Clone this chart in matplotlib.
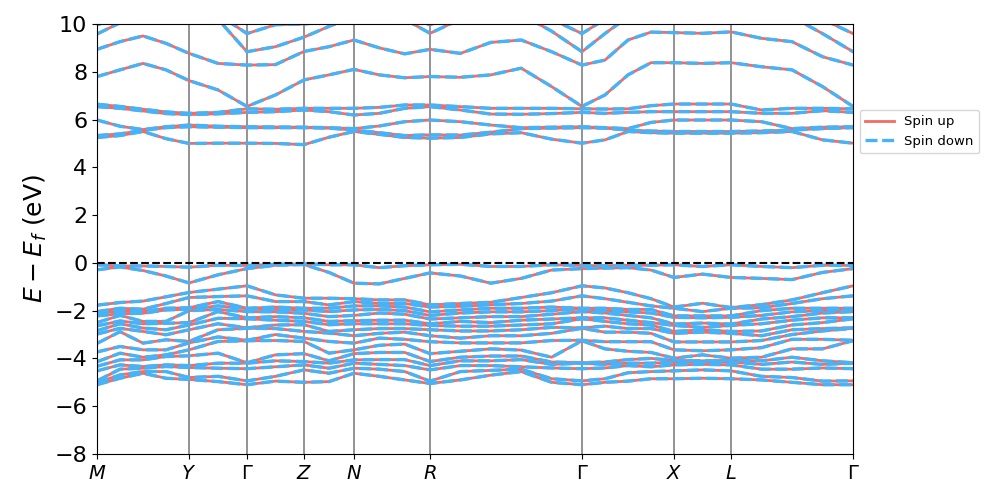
import matplotlib
matplotlib.use('Agg')
import matplotlib.pyplot as plt
import numpy as np

# high symmetry points along the path (k distance, label)
hs_labels = ['$M$', '$Y$', r'$\Gamma$', '$Z$', '$N$', '$R$', r'$\Gamma$', '$X$', '$L$', r'$\Gamma$']
hs_k = [0.0, 0.1217, 0.1984, 0.2738, 0.3399, 0.4405, 0.6415, 0.7632, 0.8386, 1.0]
# number of sampled steps in each segment
seg_steps = [4, 2, 2, 2, 3, 5, 4, 2, 4]

# band energies (eV, relative to E_f) read at every sampled k-point
e_gamma = [-0.11, -0.24, -0.96, -1.38, -1.90, -1.92, -2.04, -2.30, -2.34, -2.72, -2.74, -3.24, -3.26, -4.18, -4.20, -4.43, -4.94, -5.10,
           5.01, 5.66, 5.70, 6.30, 6.45, 6.55, 8.28, 8.84, 9.60]
e_k00 = [-0.08, -0.29, -1.77, -2.04, -2.10, -2.22, -2.50, -2.64, -2.84, -2.98, -3.37, -3.73, -4.14, -4.33, -4.52, -4.94, -5.02, -5.10,
         5.25, 5.33, 5.98, 6.54, 6.64, 7.80, 8.94, 9.58, 9.96]
e_k01 = [-0.13, -0.17, -1.66, -1.90, -2.02, -2.13, -2.20, -2.43, -2.55, -2.74, -2.88, -3.50, -3.78, -4.06, -4.27, -4.45, -4.69, -4.83,
         5.33, 5.40, 5.72, 6.47, 6.55, 8.08, 9.26, 10.05, 10.3]
e_k02 = [-0.13, -0.32, -1.60, -1.94, -2.04, -2.11, -2.45, -2.55, -2.73, -2.87, -3.36, -3.64, -3.95, -4.06, -4.34, -4.41, -4.55, -4.62,
         5.50, 5.55, 5.58, 6.36, 6.43, 8.35, 9.50, 10.4, 10.5]
e_k03 = [-0.15, -0.55, -1.42, -1.70, -1.90, -1.97, -2.45, -2.53, -2.80, -3.01, -3.22, -3.64, -3.85, -3.92, -4.27, -4.34, -4.55, -4.83,
         5.20, 5.66, 5.70, 6.25, 6.32, 8.08, 9.19, 10.4, 10.5]
e_k04 = [-0.18, -0.84, -1.24, -1.45, -1.88, -1.94, -2.00, -2.50, -2.60, -2.80, -3.29, -3.35, -3.64, -3.89, -4.30, -4.38, -4.80, -4.88,
         5.00, 5.70, 5.77, 6.21, 6.26, 7.63, 8.77, 10.4, 10.5]
e_k05 = [-0.10, -0.50, -1.10, -1.41, -1.62, -1.80, -1.95, -2.04, -2.32, -2.55, -2.80, -3.10, -3.29, -3.78, -4.20, -4.41, -4.75, -4.97,
         5.01, 5.68, 5.72, 6.24, 6.30, 7.24, 8.35, 10.2, 10.4]
e_k07 = [-0.06, -0.10, -1.34, -1.62, -1.85, -1.95, -2.05, -2.25, -2.40, -2.60, -2.75, -3.00, -3.25, -3.85, -4.10, -4.35, -4.75, -4.95,
         5.00, 5.66, 5.69, 6.33, 6.43, 7.03, 8.30, 9.05, 9.97]
e_k08 = [-0.04, -0.07, -1.48, -1.62, -1.90, -1.97, -2.11, -2.30, -2.45, -2.59, -2.87, -3.15, -3.29, -3.80, -4.13, -4.27, -4.48, -5.00,
         4.95, 5.66, 5.68, 6.40, 6.47, 7.66, 8.85, 9.45, 10.0]
e_k09 = [-0.08, -0.40, -1.48, -1.76, -1.90, -2.04, -2.25, -2.45, -2.59, -2.87, -2.94, -3.29, -3.78, -4.10, -4.20, -4.41, -4.62, -4.97,
         5.26, 5.64, 5.66, 6.33, 6.47, 7.87, 9.05, 9.90, 10.1]
e_k10 = [-0.08, -0.85, -1.50, -1.62, -1.80, -1.97, -2.20, -2.42, -2.55, -2.80, -3.05, -3.36, -3.64, -3.80, -4.06, -4.20, -4.41, -4.62,
         5.50, 5.56, 5.62, 6.19, 6.47, 8.10, 9.33, 10.3, 10.4]
e_k11 = [-0.20, -0.88, -1.55, -1.70, -1.80, -1.95, -2.10, -2.40, -2.55, -2.75, -2.95, -3.15, -3.45, -3.75, -4.05, -4.25, -4.45, -4.75,
         5.38, 5.45, 5.73, 6.26, 6.51, 7.87, 9.00, 10.4, 10.5]
e_k12 = [-0.12, -0.65, -1.55, -1.70, -1.85, -2.00, -2.15, -2.40, -2.55, -2.75, -2.90, -3.20, -3.40, -3.75, -4.05, -4.30, -4.55, -4.90,
         5.25, 5.33, 5.91, 6.47, 6.61, 7.75, 8.75, 10.2, 10.4]
e_k13 = [-0.08, -0.42, -1.76, -1.85, -2.05, -2.20, -2.35, -2.55, -2.62, -2.80, -3.05, -3.30, -3.80, -4.13, -4.30, -4.48, -4.95, -5.05,
         5.22, 5.36, 5.98, 6.54, 6.61, 7.80, 8.94, 9.61, 9.96]
e_k14 = [-0.06, -0.55, -1.70, -1.82, -1.97, -2.10, -2.30, -2.45, -2.65, -2.85, -3.15, -3.35, -3.70, -3.95, -4.10, -4.30, -4.55, -4.90,
         5.25, 5.35, 5.91, 6.40, 6.54, 7.77, 8.77, 10.2, 10.4]
e_k15 = [-0.15, -0.85, -1.65, -1.75, -1.90, -2.05, -2.25, -2.50, -2.65, -2.85, -3.05, -3.35, -3.60, -3.90, -4.10, -4.30, -4.50, -4.70,
         5.40, 5.47, 5.77, 6.23, 6.47, 7.87, 9.23, 10.4, 10.5]
e_k16 = [-0.15, -0.65, -1.45, -1.70, -1.90, -2.05, -2.25, -2.40, -2.60, -2.80, -3.05, -3.35, -3.65, -3.90, -4.05, -4.35, -4.45, -4.55,
         5.45, 5.62, 5.66, 6.22, 6.47, 8.15, 9.33, 10.4, 10.5]
e_k17 = [-0.08, -0.30, -1.25, -1.60, -1.85, -2.00, -2.15, -2.35, -2.55, -2.70, -2.95, -3.25, -3.95, -4.15, -4.25, -4.40, -4.85, -5.00,
         5.18, 5.64, 5.68, 6.25, 6.47, 7.38, 8.84, 9.70, 10.2]
e_k19 = [-0.12, -0.22, -1.05, -1.50, -1.90, -2.00, -2.10, -2.30, -2.45, -2.65, -2.90, -3.30, -3.60, -4.15, -4.25, -4.40, -4.85, -5.00,
         5.15, 5.64, 5.66, 6.26, 6.44, 7.03, 8.49, 9.60, 10.2]
e_k20 = [-0.10, -0.20, -1.25, -1.65, -1.95, -2.05, -2.20, -2.40, -2.55, -2.75, -2.90, -3.30, -3.70, -4.05, -4.20, -4.30, -4.60, -4.95,
         5.50, 5.56, 5.62, 6.30, 6.45, 7.87, 9.33, 10.3, 10.5]
e_k21 = [-0.10, -0.30, -1.50, -1.80, -1.95, -2.10, -2.30, -2.50, -2.60, -2.75, -2.95, -3.30, -3.75, -4.00, -4.20, -4.35, -4.55, -4.85,
         5.45, 5.52, 5.88, 6.33, 6.58, 8.38, 9.66, 10.4, 10.5]
e_k22 = [-0.08, -0.61, -1.85, -1.90, -2.22, -2.28, -2.56, -2.62, -2.87, -2.95, -3.31, -3.64, -3.99, -4.08, -4.15, -4.27, -4.52, -4.85,
         5.43, 5.50, 5.98, 6.33, 6.65, 8.38, 9.64, 10.4, 10.5]
e_k23 = [-0.15, -0.47, -1.69, -2.04, -2.22, -2.30, -2.52, -2.70, -2.80, -2.90, -3.31, -3.68, -3.85, -4.10, -4.15, -4.25, -4.48, -4.83,
         5.43, 5.50, 5.98, 6.33, 6.65, 8.35, 9.61, 10.4, 10.5]
e_k24 = [-0.08, -0.61, -1.87, -1.90, -2.22, -2.28, -2.56, -2.62, -2.87, -2.95, -3.31, -3.64, -3.99, -4.08, -4.15, -4.27, -4.52, -4.85,
         5.43, 5.50, 5.98, 6.33, 6.65, 8.38, 9.67, 10.4, 10.5]
e_k25 = [-0.15, -0.65, -1.75, -1.88, -2.00, -2.20, -2.35, -2.55, -2.85, -3.05, -3.25, -3.55, -3.95, -4.10, -4.25, -4.45, -4.75, -4.90,
         5.45, 5.52, 5.91, 6.26, 6.40, 8.21, 9.40, 10.4, 10.5]
e_k26 = [-0.20, -0.70, -1.55, -1.70, -1.90, -2.05, -2.25, -2.40, -2.60, -2.80, -3.00, -3.20, -3.60, -3.95, -4.15, -4.45, -4.80, -5.00,
         5.50, 5.56, 5.62, 6.26, 6.47, 8.08, 9.26, 10.3, 10.5]
e_k27 = [-0.10, -0.40, -1.25, -1.50, -1.90, -2.00, -2.10, -2.30, -2.50, -2.75, -2.85, -3.20, -3.60, -4.10, -4.25, -4.40, -4.95, -5.10,
         5.15, 5.62, 5.68, 6.37, 6.47, 7.38, 8.63, 9.60, 10.2]

columns = [e_k00, e_k01, e_k02, e_k03, e_k04, e_k05, e_gamma, e_k07, e_k08, e_k09,
           e_k10, e_k11, e_k12, e_k13, e_k14, e_k15, e_k16, e_k17, e_gamma, e_k19,
           e_k20, e_k21, e_k22, e_k23, e_k24, e_k25, e_k26, e_k27, e_gamma]


def kpath(hs, steps):
    ks = [hs[0]]
    for i, n in enumerate(steps):
        ks.extend(np.linspace(hs[i], hs[i + 1], n + 1)[1:])
    return np.array(ks)


def draw_bands(ax, k, bands):
    for i, band in enumerate(bands):
        ax.plot(k, band, color='#f46a64', lw=2.0, label='Spin up' if i == 0 else None)
    for i, band in enumerate(bands):
        ax.plot(k, band, color='#47b3f6', lw=2.4, ls='--', dashes=(3.6, 1.4),
                label='Spin down' if i == 0 else None)


if __name__ == '__main__':
    k = kpath(hs_k, seg_steps)
    spin_up = np.sort(np.array(columns), axis=1).T
    spin_down = spin_up.copy()

    fig = plt.figure(figsize=(9.97, 4.98), dpi=100)
    ax = fig.add_axes([0.0973, 0.0884, 0.7583, 0.8634])

    draw_bands(ax, k, spin_up)
    for x in hs_k[1:-1]:
        ax.axvline(x, color='gray', lw=1.2, zorder=0)
    ax.axhline(0, color='black', ls='--', lw=1.5)

    ax.set_xlim(hs_k[0], hs_k[-1])
    ax.set_ylim(-8, 10)
    ax.set_xticks(hs_k)
    ax.set_xticklabels(hs_labels, fontsize=14)
    ax.set_yticks(np.arange(-8, 11, 2))
    ax.tick_params(axis='y', labelsize=16)
    ax.set_ylabel('$E - E_f$ (eV)', fontsize=18)
    ax.legend(loc='upper left', bbox_to_anchor=(1.0, 0.815), fontsize=9.5,
              handlelength=2.2)

    fig.savefig('out.png', dpi=100)
